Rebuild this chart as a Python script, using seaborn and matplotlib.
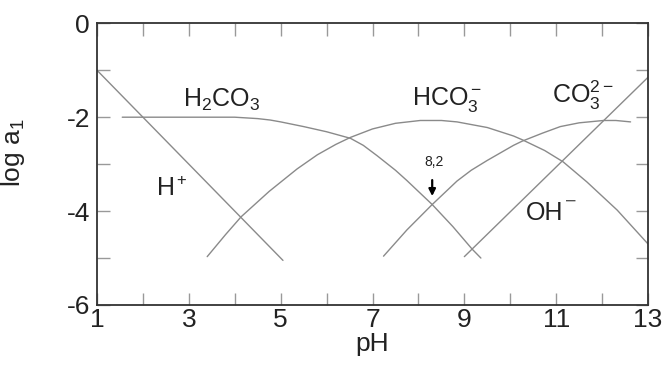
import matplotlib
matplotlib.use("Agg")
import matplotlib.pyplot as plt
import seaborn as sns

# values (pH, log a)
h_ph = [1.0, 5.05]
h_log = [-1.0, -5.05]

oh_ph = [9.0, 13.0]
oh_log = [-4.97, -1.15]

h2co3_ph = [1.55, 3.0, 4.0, 4.5, 4.77, 5.0, 5.5, 6.0, 6.52, 6.8, 7.1, 7.5, 7.75, 8.3, 8.75, 9.17, 9.36]
h2co3_log = [-2.0, -2.0, -2.0, -2.03, -2.06, -2.1, -2.2, -2.31, -2.45, -2.6, -2.82, -3.13, -3.35,
             -3.86, -4.33, -4.81, -5.0]

hco3_ph = [3.4, 3.8, 4.14, 4.75, 5.36, 5.8, 6.2, 6.52, 7.0, 7.5, 8.04, 8.5, 8.84, 9.5, 10.07, 10.26,
           10.75, 11.15, 11.67, 12.33, 13.0]
hco3_log = [-4.97, -4.5, -4.12, -3.58, -3.1, -2.8, -2.58, -2.43, -2.25, -2.13, -2.07, -2.07, -2.1,
            -2.22, -2.4, -2.48, -2.71, -2.95, -3.38, -3.98, -4.7]

co3_ph = [7.24, 7.75, 8.3, 8.84, 9.15, 9.5, 10.07, 10.26, 10.7, 11.09, 11.5, 12.03, 12.3, 12.62]
co3_log = [-4.96, -4.4, -3.86, -3.36, -3.13, -2.92, -2.6, -2.51, -2.34, -2.2, -2.12, -2.07, -2.07, -2.1]

x_major = [1, 3, 5, 7, 9, 11, 13]
x_minor = [2, 4, 6, 8, 10, 12]
y_major = [0, -2, -4, -6]
y_minor = [-1, -3, -5]

sns.set_style("ticks")
plt.rcParams["font.family"] = ["Liberation Sans", "DejaVu Sans"]
plt.rcParams["mathtext.fontset"] = "custom"
plt.rcParams["mathtext.rm"] = "Liberation Sans"
plt.rcParams["mathtext.it"] = "Liberation Sans"
plt.rcParams["axes.unicode_minus"] = False

fig = plt.figure(figsize=(6.63, 3.71), dpi=100)
ax = fig.add_axes([0.1463, 0.1779, 0.8311, 0.7593])

curve_color = "#8a8a8a"
for xs, ys in [(h_ph, h_log), (oh_ph, oh_log), (h2co3_ph, h2co3_log),
               (hco3_ph, hco3_log), (co3_ph, co3_log)]:
    sns.lineplot(x=xs, y=ys, ax=ax, color=curve_color, linewidth=1.0, errorbar=None)

ax.set_xlim(1, 13)
ax.set_ylim(-6, 0)
ax.set_xticks(x_major)
ax.set_xticks(x_minor, minor=True)
ax.set_yticks(y_major)
ax.set_yticks(y_minor, minor=True)
ax.tick_params(which="both", direction="in", top=True, right=True, length=9,
               width=1, color="#999999")
ax.tick_params(axis="x", labelsize=19, pad=2, labelcolor="#222222")
ax.tick_params(axis="y", labelsize=19, pad=5, labelcolor="#222222")
for s in ax.spines.values():
    s.set_color("#333333")
    s.set_linewidth(1.3)

ax.set_xlabel("pH", fontsize=19, color="#222222", labelpad=0)
ax.set_ylabel(r"log a$_1$", fontsize=19, color="#222222")
ax.yaxis.set_label_coords(-0.127, 0.54)

fs = 18
ink = "#222222"
ax.text(2.87, -1.78, r"H$_2$CO$_3$", fontsize=fs, color=ink)
ax.text(2.31, -3.66, "H", fontsize=fs, color=ink)
ax.text(2.73, -3.45, "+", fontsize=12, color=ink)
ax.text(7.86, -1.75, r"HCO$_3^-$", fontsize=fs, color=ink)
ax.text(10.91, -1.70, r"CO$_3^{2-}$", fontsize=fs, color=ink)
ax.text(10.35, -4.19, "OH", fontsize=fs, color=ink)
ax.text(11.2, -3.91, "\u2212", fontsize=14, color="#555555", ha="left")

ax.text(8.33, -3.05, "8,2", fontsize=10, ha="center", color=ink)
ax.annotate("", xy=(8.3, -3.74), xytext=(8.3, -3.28),
            arrowprops=dict(arrowstyle="-|>", color="black", lw=1.6, mutation_scale=10))

fig.savefig("out.png", dpi=100)
